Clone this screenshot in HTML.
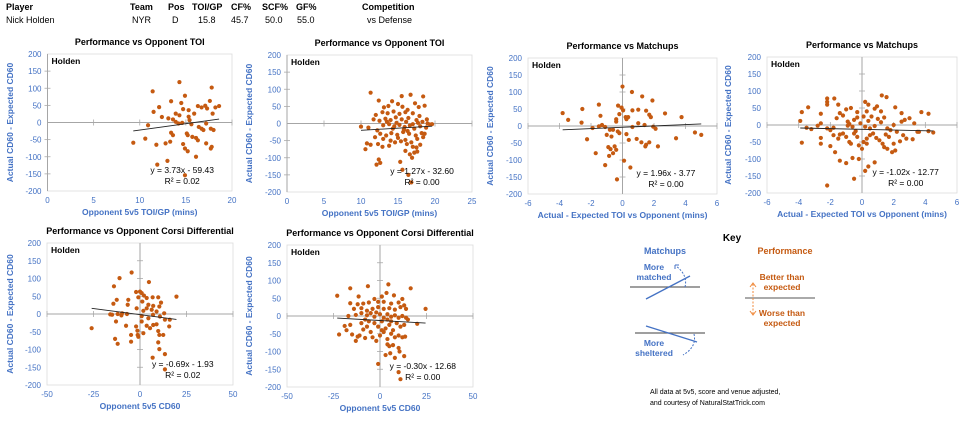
<!DOCTYPE html>
<html><head><meta charset="utf-8"><style>
body{margin:0;background:#fff;}
svg{display:block;font-family:"Liberation Sans",sans-serif;}
</style></head><body>
<svg id="c" width="978" height="430" viewBox="0 0 978 430">
<g font-size="9" fill="#000">
<text x="6" y="10" font-weight="bold">Player</text>
<text x="130" y="10" font-weight="bold">Team</text>
<text x="168" y="10" font-weight="bold">Pos</text>
<text x="192" y="10" font-weight="bold">TOI/GP</text>
<text x="231" y="10" font-weight="bold">CF%</text>
<text x="262" y="10" font-weight="bold">SCF%</text>
<text x="296" y="10" font-weight="bold">GF%</text>
<text x="362" y="10" font-weight="bold">Competition</text>
<text x="6" y="23">Nick Holden</text>
<text x="132" y="23">NYR</text>
<text x="172" y="23">D</text>
<text x="198" y="23">15.8</text>
<text x="231" y="23">45.7</text>
<text x="265" y="23">50.0</text>
<text x="297" y="23">55.0</text>
<text x="367" y="23">vs Defense</text>
</g>
<g font-weight="bold" font-size="8.5" text-anchor="middle">
<text x="732" y="241" font-size="10" fill="#000">Key</text>
<text x="665" y="254" fill="#4472c4" font-size="9">Matchups</text>
<text x="785" y="254" fill="#c55a11" font-size="9">Performance</text>
<text x="654" y="270" fill="#4472c4">More</text>
<text x="654" y="280" fill="#4472c4">matched</text>
<line x1="630" y1="287" x2="700" y2="287" stroke="#666" stroke-width="1.2"/>
<line x1="646" y1="299" x2="690" y2="276" stroke="#4472c4" stroke-width="1.3"/>
<path d="M685,287 Q688,275 676,266" fill="none" stroke="#4472c4" stroke-dasharray="2,1.5"/>
<path d="M675,265 l4,0 M675,265 l0,4" stroke="#4472c4"/>
<line x1="635" y1="333" x2="705" y2="333" stroke="#666" stroke-width="1.2"/>
<line x1="646" y1="326" x2="697" y2="342" stroke="#4472c4" stroke-width="1.3"/>
<path d="M694,334 Q697,347 683,355" fill="none" stroke="#4472c4" stroke-dasharray="2,1.5"/>
<text x="654" y="346" fill="#4472c4">More</text>
<text x="654" y="356" fill="#4472c4">sheltered</text>
<text x="782" y="280" fill="#c55a11">Better than</text>
<text x="782" y="290" fill="#c55a11">expected</text>
<line x1="745" y1="298" x2="815" y2="298" stroke="#777" stroke-width="1.2"/>
<line x1="753" y1="284" x2="753" y2="314" stroke="#f08a3c" stroke-dasharray="2,1.5"/>
<path d="M750,287 l3,-4 l3,4 M750,311 l3,4 l3,-4" fill="none" stroke="#f08a3c"/>
<text x="782" y="316" fill="#c55a11">Worse than</text>
<text x="782" y="326" fill="#c55a11">expected</text>
<text x="650" y="394" text-anchor="start" font-weight="normal" font-size="7" fill="#000">All data at 5v5, score and venue adjusted,</text>
<text x="650" y="405" text-anchor="start" font-weight="normal" font-size="7" fill="#000">and courtesy of NaturalStatTrick.com</text>
</g>
</svg>
<script>
const p1x=[11.4,14.3,17.8,14.9,13.4,17.6,12.1,11.5,14.5,14.7,15.3,16.3,16.7,17.1,17.3,18.2,18.6,17.9,13.9,14.3,15.9,15.3,12.4,13.1,13.6,13.9,14.2,14.6,15.4,15.6,16.4,16.7,17.2,17.7,18.0,10.9,13.4,13.6,10.6,9.3,11.8,12.8,13.3,15.1,15.2,15.7,16.1,16.3,16.9,14.9,15.2,16.1,17.2,17.7,17.8,13.0,11.9,14.9,14.7];
const p1y=[91,118,102,78,62,63,45,31,57,39,36,48,44,49,41,44,48,26,26,21,26,17,16,12,9,2,-3,-1,7,-5,-13,-18,-3,-18,-22,-8,-30,-37,-47,-59,-65,-61,-56,-32,-37,-42,-45,-52,-22,-76,-84,-100,-61,-76,-71,-112,-123,-154,-63];
const p2x=[11.3,12.4,14.2,15.5,16.7,17.3,18.4,15.0,13.1,13.7,15.6,16.3,17.8,18.6,12.0,12.9,13.6,14.4,15.2,16.0,17.0,17.9,18.9,11.7,12.5,13.3,14.0,14.7,15.5,16.4,17.5,18.3,19.3,10.0,11.0,12.2,13.0,13.8,14.5,15.2,15.9,16.6,17.2,18.0,18.8,19.6,12.6,13.4,14.1,14.9,15.7,16.5,17.4,18.2,13.0,14.0,15.0,16.0,16.8,17.6,18.4,10.8,11.3,12.3,13.8,14.6,15.4,16.2,17.0,17.5,18.0,10.6,12.9,16.0,16.6,17.2,16.9,12.4,12.1,12.6,15.3,15.6,16.4,16.8,17.6,14.3,15.8,16.3,13.5,17.7,11.9,18.6,19.0,14.8,16.1,17.0];
const p2y=[90,67,65,80,84,59,79,57,47,51,49,40,48,52,25,33,30,35,28,33,30,22,12,12,8,14,10,18,12,16,10,5,-3,-9,-12,-20,-5,-2,-8,-4,-10,-6,-15,-8,-12,-2,-30,-35,-28,-33,-25,-30,-35,-28,-45,-50,-42,-48,-55,-45,-40,-58,-62,-60,-65,-55,-52,-60,-68,-70,-62,-75,-68,-80,-90,-85,-100,-105,-120,-115,-112,-135,-150,-172,-82,-15,-18,-22,5,2,-40,-30,0,2,5,-2];
const p3x=[0.0,0.6,1.25,1.9,-1.5,-2.55,-3.8,-3.45,-2.6,-0.28,-0.06,0.04,0.63,1.0,1.5,1.7,1.8,0.2,0.36,-0.4,-0.2,-1.4,-1.3,-1.9,-1.5,-1.1,-0.6,-0.3,-0.2,-1.0,-0.7,0.25,0.63,1.0,1.4,1.95,2.1,3.75,2.7,3.4,4.6,5.0,-2.25,0.4,0.9,1.2,1.7,1.45,1.5,2.25,-0.9,-0.76,-0.5,-0.4,-0.6,-0.85,-1.7,-1.1,0.5,0.1,-0.35,0.25,-0.4,-0.8];
const p3y=[116,100,87,75,63,50,38,18,10,60,54,46,46,48,45,33,26,26,26,20,35,30,3,-6,-1,-3,-11,-16,-21,-26,-31,-24,-3,8,3,-2,-8,26,37,-36,-19,-26,-39,-41,-38,-48,-48,-60,-55,-60,-62,-68,-60,-70,-80,-88,-80,-115,-122,-102,-157,20,13,-11];
const p4x=[1.25,1.55,-2.2,-1.75,-3.4,-3.8,-2.6,-2.2,-2.2,-1.5,-1.0,-0.7,-0.3,0.2,0.4,0.3,0.8,0.95,1.2,2.1,2.5,3.75,4.2,-3.9,-3.5,-3.2,-2.8,-2.6,-2.2,-2.0,-1.8,-1.6,-1.4,-1.2,-0.9,-0.8,-0.6,-0.5,-0.3,-0.1,0.1,0.2,0.4,0.6,0.8,1.0,1.2,1.4,1.6,1.8,2.0,2.2,2.5,2.7,3.0,3.3,3.6,4.2,4.5,-3.8,-2.6,-2.6,-2.0,-1.5,-1.4,-1.2,-1.0,-0.8,-0.7,-0.5,-0.3,-0.2,0.0,0.1,0.3,0.3,0.5,0.7,0.9,1.1,1.3,1.4,1.6,1.7,1.9,2.0,2.1,2.6,2.8,3.2,-1.7,-1.4,-1.0,-0.6,0.8,0.4,0.2,-0.2,-0.5,-2.2,-0.9,-0.4,0.5,1.5,2.4,-1.8,3.5];
const p4y=[87,82,78,78,52,38,33,60,68,60,46,50,38,68,60,40,48,55,40,52,35,38,33,12,-8,-12,-2,5,-10,-15,-8,20,35,28,10,3,-5,15,22,5,25,-5,12,25,-3,18,8,22,-10,-15,0,-20,10,15,20,5,-20,-18,-22,-52,-38,-55,-62,-40,-28,-25,-35,-50,-55,-25,-35,-60,-70,-50,-40,-55,-30,-25,-38,-45,-55,-65,-70,-35,-80,-55,-75,-30,-40,-42,-80,-105,-112,-97,-110,-122,-135,-100,-158,-178,-2,-18,-10,-28,-48,-30,-20];
const p5x=[-4.5,-11,4.8,-14,-12.5,-6.3,-2.1,0,0.9,2.1,3.6,6.8,9.8,11.3,19.6,-0.9,1.25,4.5,7.1,10.4,-6.6,-14.3,-1.8,1.8,6.3,8.9,13,-16,-15,-12,-9.6,-7,-10,0.9,4.5,7,10.7,13.4,16,15.7,-12.9,-7.5,-2.1,-1.4,-1.25,-0.9,-4.8,-4.8,1.8,5.4,3.6,7.1,9.8,10.4,12.5,9.8,10.4,6.8,13.4,13.4,-26,-13.4,-12,8.9,3.6,0.9];
const p5y=[117,101,90,78,40,40,62,63,59,52,45,47,47,32,49,47,35,26,23,21,26,29,16,9,12,7,2,-1,-2,0,2,0,-4,-6,-12,-2,-7,-16,-16,-35,-21,-33,-35,-47,-59,-64,-59,-78,-54,-40,-33,-31,-48,-59,-59,-80,-99,-123,-113,-156,-40,-70,-84,-29,16,-21];
const p6x=[-23,-16,-6.5,4.5,16.5,-11.5,-3,1,3.5,7.5,12,-16,-12,-9,-6,-1,2,6,10,13,-14,-10,-7,-4,-1,2,5,8,11,14,24.5,-17,-13,-10,-7,-5,-3,0,2,4,6,8,10,12,14,-22,-19,-16,-15,-13,-11,-9,-7,-5,-3,-1,1,3,5,7,9,11,13,20,-12,-8,-4,-2,0,2,4,6,8,10,12,13.5,4,5,7,10,10.5,3,5.5,8,13,-1,10,11,-6,-8,-10,6,4,-2,1,15,-18];
const p6y=[57,78,84,89,78,55,48,55,65,58,48,36,33,35,38,40,40,35,38,30,20,22,15,20,25,20,22,18,25,20,20,0,3,8,2,8,-2,5,-5,5,-2,2,-5,0,-5,-52,-28,-25,-52,-70,-55,-38,-30,-45,-20,-30,-15,-35,-25,-40,-20,-30,-25,-22,-58,-62,-60,-70,-55,-45,-65,-50,-60,-55,-60,-58,-80,-85,-82,-90,-100,-110,-105,-118,-113,-135,-158,-178,-15,-10,-20,-15,-10,10,-40,-10,-40];
const slopes=[3.73,1.27,1.96,-1.02,-0.69,-0.30];
const intercepts=[-59.43,-32.60,-3.77,-12.77,-1.93,-12.68];
const eqLabels=["y = 3.73x - 59.43","y = 1.27x - 32.60","y = 1.96x - 3.77","y = -1.02x - 12.77","y = -0.69x - 1.93","y = -0.30x - 12.68"];
const r2Labels=["R² = 0.02","R² = 0.00","R² = 0.00","R² = 0.00","R² = 0.02","R² = 0.00"];
const titles=["Performance vs Opponent TOI","Performance vs Opponent TOI","Performance vs Matchups","Performance vs Matchups","Performance vs Opponent Corsi Differential","Performance vs Opponent Corsi Differential"];
const xTitles=["Opponent 5v5 TOI/GP (mins)","Opponent 5v5 TOI/GP (mins)","Actual - Expected TOI vs Opponent (mins)","Actual - Expected TOI vs Opponent (mins)","Opponent 5v5 CD60","Opponent 5v5 CD60"];
const xTicks1=[0,5,10,15,20];
const xTicks2=[0,5,10,15,20,25];
const xTicks3=[-6,-4,-2,0,2,4,6];
const xTicks5=[-50,-25,0,25,50];
const yTicks=[200,150,100,50,0,-50,-100,-150,-200];

const NS="http://www.w3.org/2000/svg";
const svg=document.getElementById('c');
function mk(tag,attrs,parent){const e=document.createElementNS(NS,tag);for(const k in attrs)e.setAttribute(k,attrs[k]);parent.appendChild(e);return e;}
const panels=[
 {xs:p1x,ys:p1y,px0:47.5,px1:232,py0:54,py1:191,ticks:xTicks1,yt:13},
 {xs:p2x,ys:p2y,px0:287,px1:472,py0:55,py1:192,ticks:xTicks2,yt:252},
 {xs:p3x,ys:p3y,px0:528,px1:717,py0:58,py1:194,ticks:xTicks3,yt:493},
 {xs:p4x,ys:p4y,px0:767,px1:957,py0:57,py1:193,ticks:xTicks3,yt:731},
 {xs:p5x,ys:p5y,px0:47,px1:233,py0:243,py1:385,ticks:xTicks5,yt:13},
 {xs:p6x,ys:p6y,px0:287,px1:473,py0:245,py1:387,ticks:xTicks5,yt:252}
];
const BLUE="#4472c4";
panels.forEach((p,i)=>{
 const g=mk('g',{},svg);
 
 
 const t=p.ticks, xmin=t[0], xmax=t[t.length-1];
 const sx=v=>p.px0+(v-xmin)/(xmax-xmin)*(p.px1-p.px0);
 const sy=v=>p.py0+(200-v)/400*(p.py1-p.py0);
 const frame=mk('rect',{x:p.px0,y:p.py0,width:p.px1-p.px0,height:p.py1-p.py0,fill:'none',stroke:'#dcdcdc','stroke-width':0.8},g);
 
 
 const ttl=mk('text',{x:(p.px0+p.px1)/2,y:p.py0-9,'text-anchor':'middle','font-size':9,'font-weight':'bold',fill:'#000'},g);
 ttl.textContent=titles[i];
 
 
 const hl=mk('text',{x:p.px0+4,y:p.py0+10,'font-size':8.5,'font-weight':'bold',fill:'#000'},g);
 hl.textContent='Holden';
 
 
 yTicks.forEach(v=>{
  const tx=mk('text',{x:p.px0-6,y:sy(v)+3,'text-anchor':'end','font-size':8,fill:BLUE},g);
  tx.textContent=v;
  
  
  if(v!==0&&v!==200&&v!==-200)mk('line',{x1:sx(0)-3,x2:sx(0)+3,y1:sy(v),y2:sy(v),stroke:'#aaa','stroke-width':0.8},g);
 });
 t.forEach(v=>{
  const tx=mk('text',{x:sx(v),y:p.py1+12,'text-anchor':'middle','font-size':8,fill:BLUE},g);
  tx.textContent=v;
  
  
  mk('line',{x1:sx(v),x2:sx(v),y1:sy(0)-3,y2:sy(0)+3,stroke:'#aaa','stroke-width':0.8},g);
 });
 const xa=mk('line',{x1:p.px0,x2:p.px1,y1:sy(0),y2:sy(0),stroke:'#a6a6a6','stroke-width':1},g);
 
 
 const ya=mk('line',{x1:sx(0),x2:sx(0),y1:p.py0,y2:p.py1,stroke:'#a6a6a6','stroke-width':1},g);
 
 
 const xt=mk('text',{x:(p.px0+p.px1)/2,y:p.py1+24,'text-anchor':'middle','font-size':8.5,'font-weight':'bold',fill:BLUE},g);
 xt.textContent=xTitles[i];
 
 
 const ym=(p.py0+p.py1)/2;
 const yt=mk('text',{x:p.yt,y:ym,'text-anchor':'middle','font-size':8.5,'font-weight':'bold',fill:BLUE,transform:'rotate(-90 '+p.yt+' '+ym+')'},g);
 yt.textContent='Actual CD60 - Expected CD60';
 
 
 p.xs.forEach((xv,j)=>{
  const c=mk('circle',{cx:sx(xv),cy:sy(p.ys[j]),r:2.1,fill:'#c55a11'},g);
  
  
 });
 const lo=Math.min(...p.xs), hi=Math.max(...p.xs);
 const tl=mk('line',{x1:sx(lo),y1:sy(slopes[i]*lo+intercepts[i]),x2:sx(hi),y2:sy(slopes[i]*hi+intercepts[i]),stroke:'#222','stroke-width':0.9},g);
 
 
 const cx=p.px0+(p.px1-p.px0)*0.73;
 const e1=mk('text',{x:cx,y:p.py1-18,'text-anchor':'middle','font-size':8.5,fill:'#000'},g);
 e1.textContent=eqLabels[i];
 
 
 const e2=mk('text',{x:cx,y:p.py1-7,'text-anchor':'middle','font-size':8.5,fill:'#000'},g);
 e2.textContent=r2Labels[i];
 
 
});
</script>
</body></html>
